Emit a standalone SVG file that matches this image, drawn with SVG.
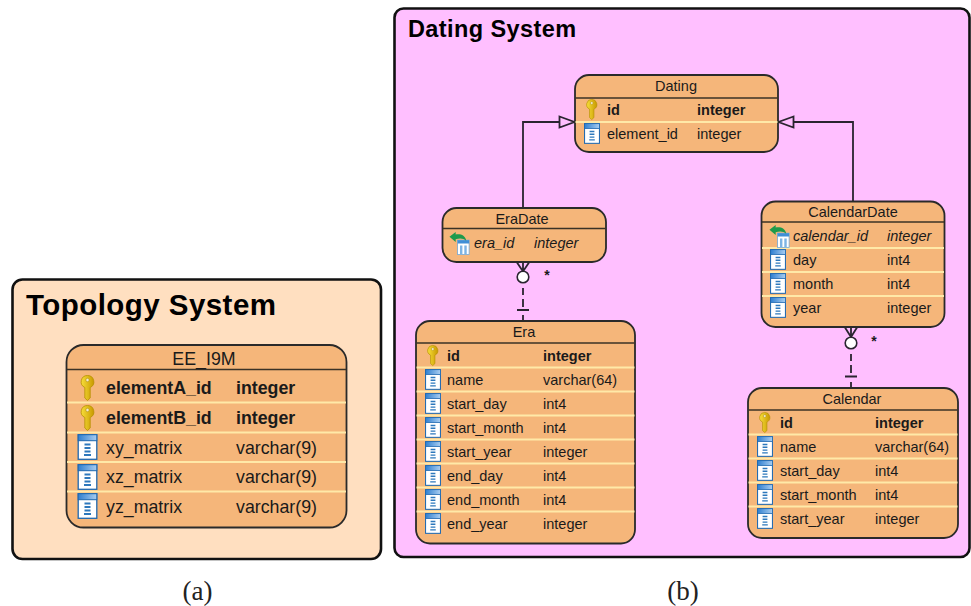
<svg xmlns="http://www.w3.org/2000/svg" width="971" height="606" viewBox="0 0 971 606">
<style>
text{font-family:"Liberation Sans",Arial,sans-serif;fill:#1a1a1a}
.sys{font-weight:bold;fill:#000}
.box{fill:#F5B67A;stroke:#2a2a2a;stroke-width:1.8}
.hd{stroke:#3a3226;stroke-width:1.3;fill:none}
.sep{stroke:#FFE9A8;stroke-width:1.8;fill:none}
.c{font-size:14.5px;dominant-baseline:central}
.big{font-size:17.8px}
.b{font-weight:bold}
.i{font-style:italic}
.m{text-anchor:middle}
.line{fill:none;stroke:#2a2430;stroke-width:1.8}
.tri{fill:#FFBFFF;stroke:#2a2430;stroke-width:1.8}
.cap{font-family:"Liberation Serif","Times New Roman",serif;font-size:27px;fill:#222}
</style>
<defs>
<linearGradient id="kg" x1="0" x2="1" y1="0" y2="0"><stop offset="0" stop-color="#F7DE3A"/><stop offset="1" stop-color="#C99A00"/></linearGradient>
<linearGradient id="hg" x1="0" x2="1" y1="0" y2="0"><stop offset="0" stop-color="#2F7FD0"/><stop offset="1" stop-color="#A9CDF0"/></linearGradient>
<symbol id="key" viewBox="0 0 14 26" overflow="visible">
<path d="M7 .5a6.300 6.300 0 0 1 2.700 12V23L7 25.500 4.300 23V12.500A6.300 6.300 0 0 1 7 .5z" fill="url(#kg)" stroke="#B58F00" stroke-width=".8"/>
<circle cx="7" cy="5" r="1.700" fill="#F3EBD2" stroke="#A58400" stroke-width=".5"/>
</symbol>
<symbol id="col" viewBox="0 0 20 26" overflow="visible">
<rect x=".7" y=".7" width="18.600" height="24.600" fill="#fff" stroke="#1F68B0" stroke-width="1.300"/>
<rect x=".7" y=".7" width="18.600" height="6" fill="url(#hg)" stroke="#1F68B0" stroke-width="1"/>
<path d="M7 10.500h6M7 14h6M7 17.500h6M6.500 21h7" stroke="#2D78BC" stroke-width="1.800"/>
</symbol>
<symbol id="fk" viewBox="0 0 22 24" overflow="visible">
<rect x="8.500" y="8.500" width="12" height="15" fill="#fff" stroke="#6CA6DA" stroke-width=".8"/>
<rect x="8.500" y="8.500" width="12" height="3.500" fill="#3F8ED6"/>
<path d="M11 14h2.500v9H11zM15.500 14H18v9h-2.500z" fill="#7DB4E4"/>
<path d="M0 5 6.500 0v2.600c5.500-.8 10 1 11 6.400-3-2.500-6.500-3-11-1.500V10.500z" fill="#1E9A4C"/>
</symbol>
</defs>

<g id="topology-system">
<rect x="12.500" y="279.500" width="368.500" height="279.500" rx="10" fill="#FFDFC0" stroke="#111" stroke-width="2.600"/>
<text class="sys" x="26" y="315" font-size="29.500" letter-spacing=".45">Topology System</text>
</g>
<g id="dating-system">
<rect x="394.500" y="8.500" width="575" height="548.500" rx="9" fill="#FFBFFF" stroke="#111" stroke-width="2.600"/>
<text class="sys" x="408" y="37" font-size="23.500" letter-spacing=".4">Dating System</text>
</g>

<g id="connectors">
<path class="line" d="M523 208V122H560"/>
<path class="tri" d="M559.500 116.500 574.500 122 559.500 127.500z"/>
<path class="line" d="M853 201V122H793"/>
<path class="tri" d="M793.500 116.500 778.500 122 793.500 127.500z"/>
<path class="line" d="M517 262.500 523 271.500 529 262.500M523 262V271"/>
<circle cx="523" cy="277" r="5.800" fill="#fff" stroke="#2a2430" stroke-width="1.600"/>
<path class="line" d="M523 288V295M523 299V307M523 315V321M517 310H529"/>
<path class="line" d="M845 327.500 851 337 857 327.500M851 327V337"/>
<circle cx="851" cy="343" r="5.800" fill="#fff" stroke="#2a2430" stroke-width="1.600"/>
<path class="line" d="M851 354V361M851 365V373M851 382V388M845 376.500H857"/>
<text x="547" y="280" font-size="14" class="m b">*</text>
<text x="874" y="345.500" font-size="14" class="m b">*</text>
</g>

<g id="EE_I9M">
<rect class="box" x="66.500" y="345" width="280" height="182.500" rx="17"/>
<path class="hd" d="M67 369.500H346"/>
<path class="sep" d="M67 402.500H346M67 432.500H346M67 462H346M67 491.500H346"/>
<text class="c big m" x="204" y="359">EE_I9M</text>
<use href="#key" x="80.500" y="375" width="14" height="26"/>
<use href="#key" x="80.500" y="405" width="14" height="26"/>
<use href="#col" x="77.500" y="434" width="20" height="26"/>
<use href="#col" x="77.500" y="464" width="20" height="26"/>
<use href="#col" x="77.500" y="493" width="20" height="26"/>
<text class="c big b" x="106" y="388">elementA_id</text><text class="c big b" x="236" y="388">integer</text>
<text class="c big b" x="106" y="418">elementB_id</text><text class="c big b" x="236" y="418">integer</text>
<text class="c big" x="106" y="448">xy_matrix</text><text class="c big" x="236" y="448">varchar(9)</text>
<text class="c big" x="106" y="477">xz_matrix</text><text class="c big" x="236" y="477">varchar(9)</text>
<text class="c big" x="106" y="507">yz_matrix</text><text class="c big" x="236" y="507">varchar(9)</text>
</g>

<g id="Dating">
<rect class="box" x="575" y="75" width="203" height="77" rx="14"/>
<path class="hd" d="M575.500 98H777.500"/>
<path class="sep" d="M575.500 122H777.500"/>
<text class="c m" x="676" y="86">Dating</text>
<use href="#key" x="586" y="99" width="11.500" height="21"/>
<use href="#col" x="584" y="123" width="16" height="21"/>
<text class="c b" x="607" y="110">id</text><text class="c b" x="697" y="110">integer</text>
<text class="c" x="607" y="134">element_id</text><text class="c" x="697" y="134">integer</text>
</g>

<g id="EraDate">
<rect class="box" x="442.500" y="208" width="163.500" height="54" rx="14"/>
<path class="hd" d="M443 228.500H605.500"/>
<text class="c m" x="522" y="219">EraDate</text>
<use href="#fk" x="449" y="232" width="22" height="23"/>
<text class="c i" x="474" y="243">era_id</text><text class="c i" x="534" y="243">integer</text>
</g>

<g id="Era">
<rect class="box" x="416" y="321" width="219" height="222.500" rx="14"/>
<path class="hd" d="M416.500 343H634.500"/>
<path class="sep" d="M416.500 367.500H634.500M416.500 391.500H634.500M416.500 415.500H634.500M416.500 439.500H634.500M416.500 463.500H634.500M416.500 487.500H634.500M416.500 511.500H634.500"/>
<text class="c m" x="524" y="332">Era</text>
<use href="#key" x="427" y="345" width="11.500" height="21"/>
<use href="#col" x="425" y="369" width="16" height="21"/>
<use href="#col" x="425" y="393" width="16" height="21"/>
<use href="#col" x="425" y="417" width="16" height="21"/>
<use href="#col" x="425" y="441" width="16" height="21"/>
<use href="#col" x="425" y="465" width="16" height="21"/>
<use href="#col" x="425" y="489" width="16" height="21"/>
<use href="#col" x="425" y="513" width="16" height="21"/>
<text class="c b" x="447" y="356">id</text><text class="c b" x="543" y="356">integer</text>
<text class="c" x="447" y="380">name</text><text class="c" x="543" y="380">varchar(64)</text>
<text class="c" x="447" y="404">start_day</text><text class="c" x="543" y="404">int4</text>
<text class="c" x="447" y="428">start_month</text><text class="c" x="543" y="428">int4</text>
<text class="c" x="447" y="452">start_year</text><text class="c" x="543" y="452">integer</text>
<text class="c" x="447" y="476">end_day</text><text class="c" x="543" y="476">int4</text>
<text class="c" x="447" y="500">end_month</text><text class="c" x="543" y="500">int4</text>
<text class="c" x="447" y="524">end_year</text><text class="c" x="543" y="524">integer</text>
</g>

<g id="CalendarDate">
<rect class="box" x="761.500" y="201.500" width="183" height="125.500" rx="14"/>
<path class="hd" d="M762 222H944"/>
<path class="sep" d="M762 248H944M762 272H944M762 296H944"/>
<text class="c m" x="853" y="212">CalendarDate</text>
<use href="#fk" x="769" y="225" width="22" height="23"/>
<use href="#col" x="770" y="249" width="16" height="21"/>
<use href="#col" x="770" y="273" width="16" height="21"/>
<use href="#col" x="770" y="297" width="16" height="21"/>
<text class="c i" x="793" y="236">calendar_id</text><text class="c i" x="887" y="236">integer</text>
<text class="c" x="793" y="260">day</text><text class="c" x="887" y="260">int4</text>
<text class="c" x="793" y="284">month</text><text class="c" x="887" y="284">int4</text>
<text class="c" x="793" y="308">year</text><text class="c" x="887" y="308">integer</text>
</g>

<g id="Calendar">
<rect class="box" x="748" y="388" width="210" height="150" rx="14"/>
<path class="hd" d="M748.500 410H957.500"/>
<path class="sep" d="M748.500 434.500H957.500M748.500 458.500H957.500M748.500 482.500H957.500M748.500 506.500H957.500"/>
<text class="c m" x="852" y="399">Calendar</text>
<use href="#key" x="759" y="412" width="11.500" height="21"/>
<use href="#col" x="757" y="436" width="16" height="21"/>
<use href="#col" x="757" y="460" width="16" height="21"/>
<use href="#col" x="757" y="484" width="16" height="21"/>
<use href="#col" x="757" y="508" width="16" height="21"/>
<text class="c b" x="780" y="423">id</text><text class="c b" x="875" y="423">integer</text>
<text class="c" x="780" y="447">name</text><text class="c" x="875" y="447">varchar(64)</text>
<text class="c" x="780" y="471">start_day</text><text class="c" x="875" y="471">int4</text>
<text class="c" x="780" y="495">start_month</text><text class="c" x="875" y="495">int4</text>
<text class="c" x="780" y="519">start_year</text><text class="c" x="875" y="519">integer</text>
</g>

<text class="cap m" x="197.500" y="600">(a)</text>
<text class="cap m" x="683" y="600">(b)</text>
</svg>
